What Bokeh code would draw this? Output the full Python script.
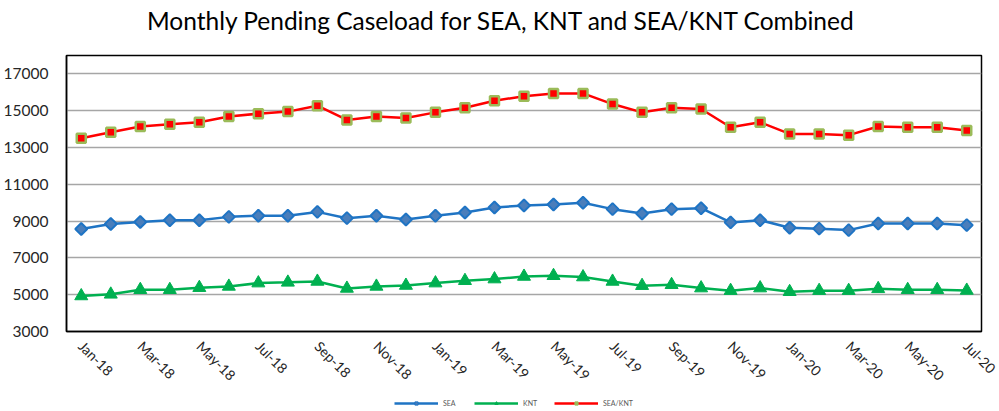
import math
from bokeh.plotting import figure
from bokeh.layouts import column
from bokeh.models import ColumnDataSource, FixedTicker, Range1d, Legend, LegendItem, Label
from bokeh.embed import file_html
from bokeh.resources import INLINE

months = ["Jan-18", "Feb-18", "Mar-18", "Apr-18", "May-18", "Jun-18", "Jul-18", "Aug-18",
          "Sep-18", "Oct-18", "Nov-18", "Dec-18", "Jan-19", "Feb-19", "Mar-19", "Apr-19",
          "May-19", "Jun-19", "Jul-19", "Aug-19", "Sep-19", "Oct-19", "Nov-19", "Dec-19",
          "Jan-20", "Feb-20", "Mar-20", "Apr-20", "May-20", "Jun-20", "Jul-20"]
sea = [8570, 8840, 8950, 9050, 9050, 9230, 9290, 9290, 9500, 9160, 9290, 9090, 9290, 9470, 9740,
       9850, 9900, 10000, 9650, 9410, 9650, 9700, 8930, 9050, 8640, 8590, 8510, 8870, 8870, 8870, 8780]
knt = [4930, 5020, 5270, 5270, 5380, 5450, 5630, 5670, 5720, 5340, 5450, 5500, 5630, 5760, 5850,
       5990, 6030, 5960, 5720, 5490, 5540, 5360, 5220, 5360, 5160, 5220, 5220, 5320, 5270, 5270, 5230]
combined = [13500, 13830, 14140, 14260, 14370, 14680, 14840, 14950, 15270, 14500, 14680, 14600,
            14910, 15160, 15540, 15790, 15940, 15940, 15360, 14910, 15160, 15090, 14100, 14370,
            13740, 13740, 13670, 14140, 14100, 14100, 13920]
series_names = ["SEA", "KNT", "SEA/KNT"]
y_ticks = [3000, 5000, 7000, 9000, 11000, 13000, 15000, 17000]
label_months = months[::2]
title_text = "Monthly Pending Caseload for SEA, KNT and SEA/KNT Combined"

FONT = "Lato"
x = list(range(len(months)))
src = ColumnDataSource(dict(x=x, sea=sea, knt=knt, combined=combined))

# title strip (its frame lines up with the chart frame, 63..981 px)
tf = figure(width=999, height=40, output_backend="svg", toolbar_location=None,
            x_range=Range1d(63, 981), y_range=Range1d(0, 40),
            x_axis_location=None, y_axis_location=None,
            min_border_left=0, min_border_right=0, min_border_top=0, min_border_bottom=0)
tf.outline_line_color = None
tf.grid.grid_line_color = None
tf.add_layout(Label(x=499.5, y=20, text=title_text, text_align="center",
                    text_baseline="middle", text_font=FONT, text_font_size="24.5px",
                    text_color="#000000"))

p = figure(width=999, height=356, output_backend="svg", toolbar_location=None,
           x_range=Range1d(-0.5, len(months) - 0.5), y_range=Range1d(3000, 18000),
           min_border_left=63, min_border_right=18, min_border_top=15, min_border_bottom=65)

p.outline_line_color = "#000000"
p.outline_line_width = 1.5
p.xgrid.grid_line_color = None
p.ygrid.grid_line_color = "#A6A6A6"
p.ygrid.grid_line_width = 1.5
p.ygrid.ticker = FixedTicker(ticks=y_ticks)

p.yaxis.ticker = FixedTicker(ticks=y_ticks)
p.yaxis.axis_line_color = "#000000"
p.yaxis.axis_line_width = 1.5
p.yaxis.major_tick_line_color = None
p.yaxis.minor_tick_line_color = None
p.yaxis.major_label_text_font = FONT
p.yaxis.major_label_text_font_size = "15.5px"
p.yaxis.major_label_text_color = "#262626"
p.yaxis.major_label_standoff = 12

p.xaxis.ticker = FixedTicker(ticks=x[::2])
p.xaxis.major_label_overrides = {i: m for i, m in zip(x[::2], label_months)}
p.xaxis.axis_line_color = "#000000"
p.xaxis.axis_line_width = 1.5
p.xaxis.major_tick_line_color = None
p.xaxis.minor_tick_line_color = None
p.xaxis.major_label_text_font = FONT
p.xaxis.major_label_text_font_size = "14px"
p.xaxis.major_label_text_color = "#262626"
p.xaxis.major_label_orientation = -math.pi / 4
p.xaxis.major_label_standoff = 6

# series
p.line("x", "sea", source=src, line_color="#1F74C4", line_width=2.5)
p.scatter("x", "sea", source=src, marker="square", angle=math.pi / 4, size=8.5,
          fill_color="#4A7EBB", line_color="#1F74C4", line_width=2)
p.line("x", "knt", source=src, line_color="#00B050", line_width=2.5)
p.scatter("x", "knt", source=src, marker="triangle", size=13,
          fill_color="#00B050", line_color="#00B050", line_width=1)
p.line("x", "combined", source=src, line_color="#FF0000", line_width=2.5)
p.scatter("x", "combined", source=src, marker="square", size=9,
          fill_color="#FF0000", line_color="#9BBB59", line_width=2.5)

# legend strip below the chart (its renderers fall outside its own view range)
lf = figure(width=999, height=14, output_backend="svg", toolbar_location=None,
            x_range=Range1d(-0.5, len(months) - 0.5), y_range=Range1d(-2, -1),
            x_axis_location=None, y_axis_location=None,
            min_border_left=0, min_border_right=0, min_border_top=0, min_border_bottom=0)
lf.outline_line_color = None
lf.grid.grid_line_color = None
l1 = lf.line("x", "sea", source=src, line_color="#1F74C4", line_width=2.5)
m1 = lf.scatter("x", "sea", source=src, marker="square", angle=math.pi / 4, size=4,
                fill_color="#4A7EBB", line_color="#1F74C4")
l2 = lf.line("x", "knt", source=src, line_color="#00B050", line_width=2.5)
m2 = lf.scatter("x", "knt", source=src, marker="triangle", size=6,
                fill_color="#00B050", line_color="#00B050")
l3 = lf.line("x", "combined", source=src, line_color="#FF0000", line_width=2.5)
m3 = lf.scatter("x", "combined", source=src, marker="square", size=6,
                fill_color="#9BBB59", line_color="#9BBB59")

legend = Legend(items=[LegendItem(label=series_names[0], renderers=[l1, m1]),
                       LegendItem(label=series_names[1], renderers=[l2, m2]),
                       LegendItem(label=series_names[2], renderers=[l3, m3])],
                orientation="horizontal", location=(328, 3),
                glyph_width=44, glyph_height=8, label_height=8, label_text_font=FONT,
                label_text_font_size="7px", label_text_color="#595959",
                label_standoff=5, spacing=11, padding=0, margin=0,
                border_line_color=None, background_fill_alpha=0)
lf.add_layout(legend, "center")

layout = column(tf, p, lf, spacing=0)
open("out.html", "w").write(file_html(layout, INLINE))
